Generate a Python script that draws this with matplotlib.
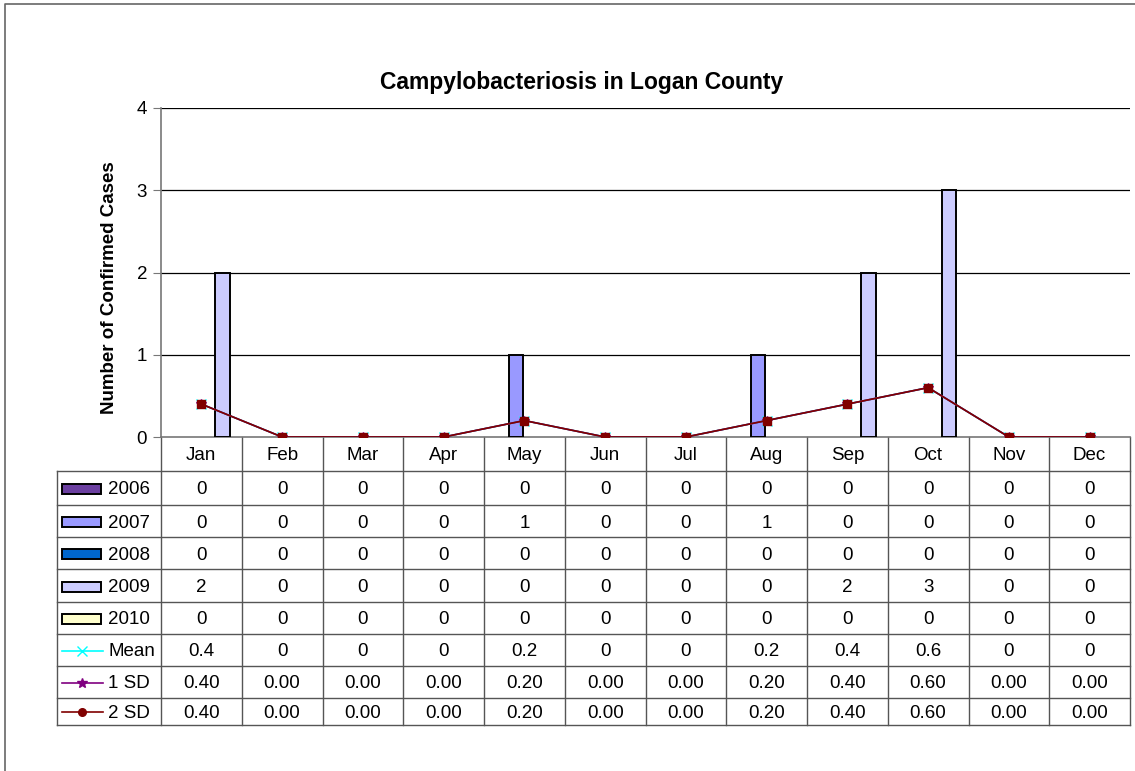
import numpy as np
import matplotlib
matplotlib.use("Agg")
import matplotlib.pyplot as plt
from matplotlib.patches import Rectangle
from matplotlib.lines import Line2D

plt.rcParams["font.family"] = ["Liberation Sans", "DejaVu Sans"]

months = ["Jan", "Feb", "Mar", "Apr", "May", "Jun",
          "Jul", "Aug", "Sep", "Oct", "Nov", "Dec"]
years = ["2006", "2007", "2008", "2009", "2010"]
cases_2006 = [0, 0, 0, 0, 0, 0, 0, 0, 0, 0, 0, 0]
cases_2007 = [0, 0, 0, 0, 1, 0, 0, 1, 0, 0, 0, 0]
cases_2008 = [0, 0, 0, 0, 0, 0, 0, 0, 0, 0, 0, 0]
cases_2009 = [2, 0, 0, 0, 0, 0, 0, 0, 2, 3, 0, 0]
cases_2010 = [0, 0, 0, 0, 0, 0, 0, 0, 0, 0, 0, 0]
mean = [0.4, 0, 0, 0, 0.2, 0, 0, 0.2, 0.4, 0.6, 0, 0]
sd1 = [0.40, 0.00, 0.00, 0.00, 0.20, 0.00, 0.00, 0.20, 0.40, 0.60, 0.00, 0.00]
sd2 = [0.40, 0.00, 0.00, 0.00, 0.20, 0.00, 0.00, 0.20, 0.40, 0.60, 0.00, 0.00]

bar_series = [cases_2006, cases_2007, cases_2008, cases_2009, cases_2010]
bar_colors = ["#6B3FA0", "#9999FF", "#0066CC", "#CCCCFF", "#FFFFCC"]
line_series = [("Mean", mean, "#00FFFF", "x", "%g"),
               ("1 SD", sd1, "#800080", "*", "%.2f"),
               ("2 SD", sd2, "#800000", "s", "%.2f")]

W, H = 1135, 771
FS = 13.5
fig = plt.figure(figsize=(W / 100, H / 100), dpi=100)

# pixel-space overlay for frame and the data table
ov = fig.add_axes([0, 0, 1, 1])
ov.set_xlim(0, W); ov.set_ylim(H, 0); ov.axis("off")
ov.plot([5, 5, 1135], [771, 4, 4], color="#666666", lw=1.2)

# plot area
L, R, T, B = 161, 1130, 108, 437
ax = fig.add_axes([L / W, 1 - B / H, (R - L) / W, (B - T) / H])
ax.set_xlim(-0.5, 11.5); ax.set_ylim(0, 4)
x = np.arange(len(months))
slot = 0.182
offsets = [-0.287, -0.105, 0.076, 0.258, 0.44]
for vals, col, off in zip(bar_series, bar_colors, offsets):
    v = np.array(vals, dtype=float)
    nz = v > 0  # zero bars are not drawn in the original
    ax.bar((x + off)[nz], v[nz], width=slot, color=col, edgecolor="black",
           linewidth=1.4, zorder=3)
for name, vals, col, mk, fmt in line_series:
    ax.plot(x, vals, color=col, lw=1.2, marker=mk, ms=7 if mk != "s" else 5.5,
            zorder=4)
ax.set_yticks([0, 1, 2, 3, 4])
ax.set_yticklabels(["0", "1", "2", "3", "4"], fontsize=FS)
ax.tick_params(axis="y", direction="out", length=6, color="#777777", pad=4)
ax.set_xticks([])
for yv in [1, 2, 3, 4]:
    ax.axhline(yv, color="black", lw=0.9, zorder=1)
for s in ["top", "right"]:
    ax.spines[s].set_visible(False)
for s in ["left", "bottom"]:
    ax.spines[s].set_color("#777777")
    ax.spines[s].set_linewidth(1.2)
ax.set_facecolor("none")
ax.set_ylabel("Number of Confirmed Cases", fontsize=13.5, fontweight="bold")
ax.yaxis.set_label_coords((118 - L) / (R - L), (B - 288) / (B - T))
fig.text(582 / W, 1 - 82 / H, "Campylobacteriosis in Logan County",
         ha="center", va="center", fontsize=16.5, fontweight="bold")

# data table
colw = (R - L) / 12
head_top = B
row_edges = [471, 505, 537, 569, 602, 634, 666, 698, 725]
tl = 57
tbl_bot = row_edges[-1]
for i in range(13):
    xx = L + i * colw
    ov.plot([xx, xx], [head_top, tbl_bot], color="#555555", lw=1.0)
ov.plot([tl, tl], [row_edges[0], tbl_bot], color="#555555", lw=1.0)
for yy in row_edges:
    ov.plot([tl, R], [yy, yy], color="#555555", lw=1.0)
for i, m in enumerate(months):
    ov.text(L + (i + 0.5) * colw, 456, m,
            ha="center", va="center", fontsize=FS)

def row_center(r):
    if r == len(row_edges) - 2:
        return row_edges[r] + 15
    return (row_edges[r] + row_edges[r + 1]) / 2 + 2

for r, (yr, vals, col) in enumerate(zip(years, bar_series, bar_colors)):
    yc = row_center(r)
    ov.add_patch(Rectangle((62, yc - 6), 39, 10, facecolor=col,
                           edgecolor="black", lw=1.4))
    ov.text(108, yc, yr, ha="left", va="center", fontsize=FS)
    for i, v in enumerate(vals):
        ov.text(L + (i + 0.5) * colw, yc, "%d" % v, ha="center",
                va="center", fontsize=FS)

for k, (name, vals, col, mk, fmt) in enumerate(line_series):
    r = len(years) + k
    yc = row_center(r)
    ov.add_line(Line2D([62, 103], [yc - 1, yc - 1], color=col, lw=1.2))
    ov.plot([82], [yc - 1], marker="o" if mk == "s" else mk, color=col,
            ms=7 if mk != "s" else 5.5)
    ov.text(108, yc, name, ha="left", va="center", fontsize=FS)
    for i, v in enumerate(vals):
        ov.text(L + (i + 0.5) * colw, yc, fmt % v, ha="center",
                va="center", fontsize=FS)

fig.savefig("out.png", dpi=100)
